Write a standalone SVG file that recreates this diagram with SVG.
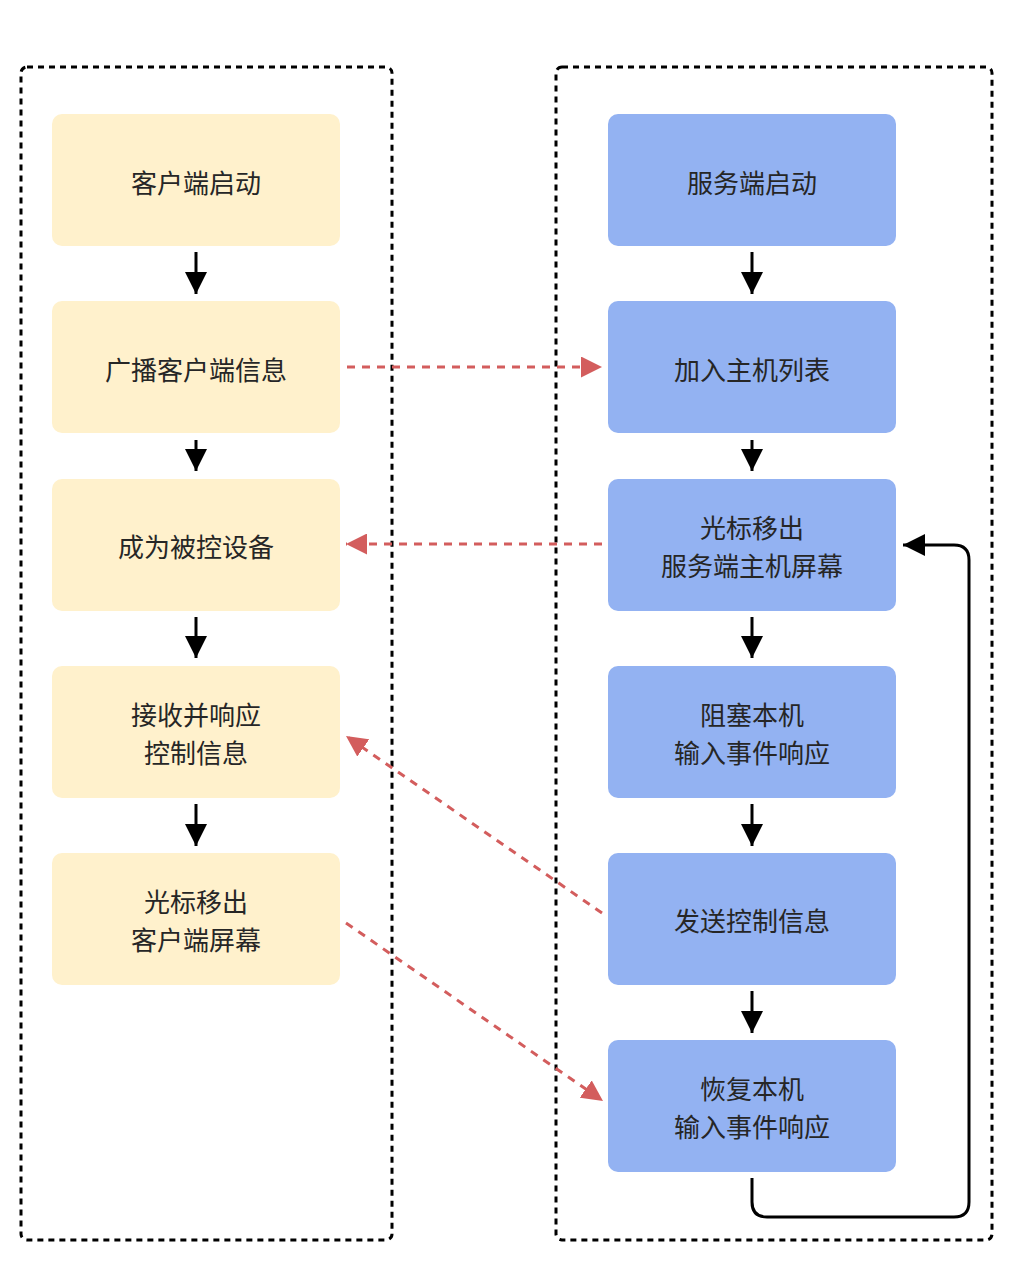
<svg xmlns="http://www.w3.org/2000/svg" width="1011" height="1281" viewBox="0 0 1011 1281">
<style>
.box{stroke:#000;stroke-width:3;stroke-dasharray:6 5;fill:none}
.c{fill:#fff1cc}
.s{fill:#93b2f2}
text{font-family:"Noto Sans CJK SC","Noto Sans",sans-serif;font-size:26px;fill:#262626;text-anchor:middle;dominant-baseline:central}
.a{stroke:#000;stroke-width:3;fill:none}
.r{stroke:#d35d5d;stroke-width:3;stroke-dasharray:8 7;fill:none}
</style>
<defs>
<marker id="ab" viewBox="0 0 10 10" refX="10" refY="5" markerWidth="22" markerHeight="24" markerUnits="userSpaceOnUse" orient="auto"><path d="M0,0L10,5L0,10z" fill="#000"/></marker>
<marker id="ar" viewBox="0 0 10 10" refX="10" refY="5" markerWidth="7" markerHeight="7" orient="auto"><path d="M0,0L10,5L0,10z" fill="#d35d5d"/></marker>
</defs>
<rect width="1011" height="1281" fill="#fff"/>
<rect class="box" x="21" y="67" width="371" height="1173" rx="6"/>
<rect class="box" x="556" y="67" width="436" height="1173" rx="6"/>
<g id="c1"><rect class="c" x="52" y="114" width="288" height="132" rx="10"/><text x="196" y="181">客户端启动</text></g>
<g id="c2"><rect class="c" x="52" y="301" width="288" height="132" rx="10"/><text x="196" y="368">广播客户端信息</text></g>
<g id="c3"><rect class="c" x="52" y="479" width="288" height="132" rx="10"/><text x="196" y="545">成为被控设备</text></g>
<g id="c4"><rect class="c" x="52" y="666" width="288" height="132" rx="10"/><text x="196" y="713">接收并响应</text><text x="196" y="751">控制信息</text></g>
<g id="c5"><rect class="c" x="52" y="853" width="288" height="132" rx="10"/><text x="196" y="900">光标移出</text><text x="196" y="938">客户端屏幕</text></g>
<g id="s1"><rect class="s" x="608" y="114" width="288" height="132" rx="10"/><text x="752" y="181">服务端启动</text></g>
<g id="s2"><rect class="s" x="608" y="301" width="288" height="132" rx="10"/><text x="752" y="368">加入主机列表</text></g>
<g id="s3"><rect class="s" x="608" y="479" width="288" height="132" rx="10"/><text x="752" y="526">光标移出</text><text x="752" y="564">服务端主机屏幕</text></g>
<g id="s4"><rect class="s" x="608" y="666" width="288" height="132" rx="10"/><text x="752" y="713">阻塞本机</text><text x="752" y="751">输入事件响应</text></g>
<g id="s5"><rect class="s" x="608" y="853" width="288" height="132" rx="10"/><text x="752" y="919">发送控制信息</text></g>
<g id="s6"><rect class="s" x="608" y="1040" width="288" height="132" rx="10"/><text x="752" y="1087">恢复本机</text><text x="752" y="1125">输入事件响应</text></g>
<g id="connectors">
<g class="a">
<path d="M196,252V294" marker-end="url(#ab)"/>
<path d="M196,440V471" marker-end="url(#ab)"/>
<path d="M196,617V658" marker-end="url(#ab)"/>
<path d="M196,804V846" marker-end="url(#ab)"/>
<path d="M752,252V294" marker-end="url(#ab)"/>
<path d="M752,440V471" marker-end="url(#ab)"/>
<path d="M752,617V658" marker-end="url(#ab)"/>
<path d="M752,804V846" marker-end="url(#ab)"/>
<path d="M752,991V1033" marker-end="url(#ab)"/>
<path d="M752,1178V1202Q752,1217 767,1217H954Q969,1217 969,1202V560Q969,545 954,545H903" marker-end="url(#ab)"/>
</g>
<g class="r">
<path d="M347,367H602" marker-end="url(#ar)"/>
<path d="M602,544H346" marker-end="url(#ar)"/>
<path d="M602,913L346,736" marker-end="url(#ar)"/>
<path d="M346,923L603,1101" marker-end="url(#ar)"/>
</g>
</g>
</svg>
